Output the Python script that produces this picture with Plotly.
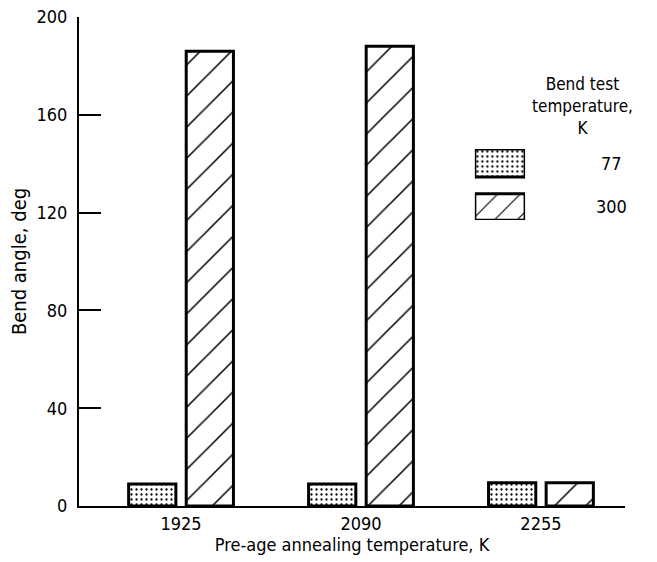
import plotly.graph_objects as go

categories = ["1925", "2090", "2255"]
bend_77 = [9, 9, 9.5]
bend_300 = [186, 188, 9.5]
legend_labels = ["77", "300"]
y_ticks = [0, 40, 80, 120, 160, 200]

FONT = "DejaVu Sans Condensed, DejaVu Sans, sans-serif"

dot_pat = dict(shape=".", fgcolor="black", bgcolor="white", size=5, solidity=0.16, fillmode="replace")
hatch_pat = dict(shape="/", fgcolor="black", bgcolor="white", size=22, solidity=0.07, fillmode="replace")
line_style = dict(color="black", width=3)

fig = go.Figure()
fig.add_trace(go.Bar(x=categories, y=bend_77, marker=dict(color="white", pattern=dot_pat, line=line_style),
                     showlegend=False))
fig.add_trace(go.Bar(x=categories, y=bend_300, marker=dict(color="white", pattern=hatch_pat, line=line_style),
                     showlegend=False))

# legend swatches in inset axis
leg_pos = [1, 0]
fig.add_trace(go.Bar(x=[1], y=[leg_pos[0]], orientation="h", width=0.64, xaxis="x2", yaxis="y2",
                     marker=dict(color="white", pattern=dot_pat, line=line_style), showlegend=False))
fig.add_trace(go.Bar(x=[1], y=[leg_pos[1]], orientation="h", width=0.6, xaxis="x2", yaxis="y2",
                     marker=dict(color="white", pattern=dict(hatch_pat, size=16), line=line_style), showlegend=False))

annotations = [
    dict(text="Bend test<br>temperature,<br>K", xref="paper", yref="paper", x=0.923, y=0.888,
         xanchor="center", yanchor="top", showarrow=False, align="center",
         font=dict(family=FONT, size=17, color="black")),
]
for lab, pos in zip(legend_labels, leg_pos):
    annotations.append(dict(text=lab, xref="paper", yref="y2", x=0.975, y=pos, xanchor="center",
                            yanchor="middle", showarrow=False, font=dict(family=FONT, size=18, color="black")))

fig.update_layout(
    width=657, height=562,
    margin=dict(l=79, r=32, t=17, b=56),
    paper_bgcolor="white", plot_bgcolor="white",
    font=dict(family=FONT, size=18, color="black"),
    barmode="group", bargap=0.36, bargroupgap=0.18,
    xaxis=dict(range=[-0.567, 2.467], showline=True, linecolor="black", linewidth=2,
               ticks="", showgrid=False, zeroline=False, automargin=False,
               title=dict(text="Pre-age annealing temperature, K", standoff=6, font=dict(size=18))),
    yaxis=dict(range=[0, 200], tickvals=y_ticks, showline=True, linecolor="black", linewidth=2,
               ticks="inside", ticklen=22, tickwidth=2, tickcolor="black", showgrid=False,
               zeroline=False, ticklabelstandoff=6, automargin=False,
               title=dict(text="Bend angle, deg", standoff=4, font=dict(size=20))),
    xaxis2=dict(domain=[0.725, 0.817], range=[0, 1], anchor="y2", visible=False, fixedrange=True),
    yaxis2=dict(domain=[0.585, 0.730], range=[-0.295, 1.318], anchor="x2", visible=False, fixedrange=True),
    annotations=annotations,
)

fig.write_html("out.html")
